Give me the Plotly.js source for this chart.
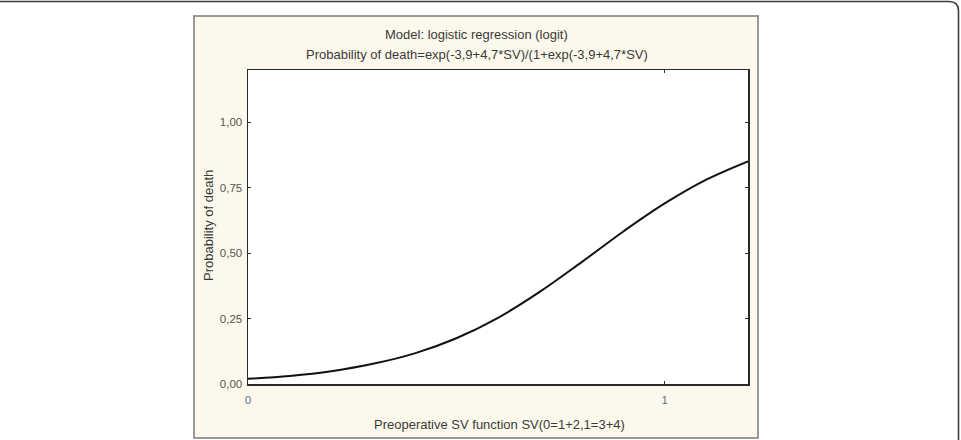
<!DOCTYPE html>
<html>
<head>
<meta charset="utf-8">
<script src="https://cdn.plot.ly/plotly-3.0.1.min.js"></script>
<style>
  html, body { margin: 0; padding: 0; background: #ffffff; }
  #chart { width: 961px; height: 440px; }
</style>
</head>
<body>
<div id="chart"></div>
<script>
// Preoperative SV function (0 = classes 1+2, 1 = classes 3+4)
const svValues = [0, 0.1, 0.2, 0.3, 0.4, 0.5, 0.6, 0.7, 0.8, 0.9, 1.0, 1.1, 1.2];
// Estimated probability of death along the fitted logit curve
const deathProbability = [0.020, 0.031, 0.049, 0.077, 0.117, 0.175, 0.253, 0.352, 0.465, 0.582, 0.690, 0.781, 0.851];

const xTickValues = [0, 1];
const xTickLabels = ['0', '1'];
const yTickValues = [0, 0.25, 0.5, 0.75, 1.0];
const yTickLabels = ['0,00', '0,25', '0,50', '0,75', '1,00'];

const titleLines = [
  'Model: logistic regression (logit)',
  'Probability of death=exp(-3,9+4,7*SV)/(1+exp(-3,9+4,7*SV)'
];
const xTitle = 'Preoperative SV function SV(0=1+2,1=3+4)';
const yTitle = 'Probability of death';

// Plot area geometry in pixels
const W = 961, H = 440;
const L = 248, R = 748, T = 70, B = 384;
const px = (x) => (x - L) / (R - L);
const py = (y) => (B - y) / (B - T);

const font = 'Liberation Sans, Arial, sans-serif';
const textColor = '#3a3a3a';
const labelSize = 13;

const trace = {
  x: svValues,
  y: deathProbability,
  type: 'scatter',
  mode: 'lines',
  line: { color: '#111111', width: 2, shape: 'spline', smoothing: 1 },
  hoverinfo: 'x+y'
};

const axisCommon = {
  showgrid: false,
  zeroline: false,
  showline: true,
  linecolor: '#2a2a2a',
  linewidth: 1.5,
  mirror: 'allticks',
  ticks: 'inside',
  ticklen: 3,
  tickwidth: 1,
  tickcolor: '#2a2a2a',
  fixedrange: true
};

const layout = {
  width: W,
  height: H,
  margin: { l: L, r: W - R, t: T, b: H - B, pad: 0 },
  paper_bgcolor: '#ffffff',
  plot_bgcolor: 'rgba(0,0,0,0)',
  showlegend: false,
  separators: ',.',
  font: { family: font, size: 11, color: textColor },
  xaxis: Object.assign({}, axisCommon, {
    range: [0, 1.2],
    tickmode: 'array',
    tickvals: xTickValues,
    ticktext: xTickLabels,
    ticklabelstandoff: 5,
    tickfont: { family: font, size: 11.5, color: '#5a7488' }
  }),
  yaxis: Object.assign({}, axisCommon, {
    range: [0, 1.2],
    tickmode: 'array',
    tickvals: yTickValues,
    ticktext: yTickLabels,
    ticklabelstandoff: 2,
    tickfont: { family: font, size: 11.5, color: '#555555' }
  }),
  shapes: [
    // cream panel behind the whole chart
    {
      type: 'rect', xref: 'paper', yref: 'paper', layer: 'below',
      x0: px(194), x1: px(758), y0: py(438), y1: py(16),
      fillcolor: '#fcf9ec', line: { color: '#7a7a7a', width: 1.5 }
    },
    // white plotting area
    {
      type: 'rect', xref: 'paper', yref: 'paper', layer: 'below',
      x0: 0, x1: 1, y0: 0, y1: 1,
      fillcolor: '#ffffff', line: { width: 0 }
    },
    // outer frame with rounded top-right corner
    {
      type: 'path', xref: 'paper', yref: 'paper', layer: 'below',
      path: 'M ' + px(-5) + ',' + py(1.5) +
            ' L ' + px(949) + ',' + py(1.5) +
            ' Q ' + px(958.5) + ',' + py(1.5) + ' ' + px(958.5) + ',' + py(11) +
            ' L ' + px(958.5) + ',' + py(445),
      line: { color: '#3c3c3c', width: 1.6 }
    }
  ],
  annotations: [
    {
      text: titleLines[0], xref: 'paper', yref: 'paper',
      x: px(476), y: py(35), xanchor: 'center', yanchor: 'middle',
      showarrow: false, font: { family: font, size: labelSize, color: textColor }
    },
    {
      text: titleLines[1], xref: 'paper', yref: 'paper',
      x: px(477), y: py(55), xanchor: 'center', yanchor: 'middle',
      showarrow: false, font: { family: font, size: labelSize, color: textColor }
    },
    {
      text: xTitle, xref: 'paper', yref: 'paper',
      x: px(499), y: py(424), xanchor: 'center', yanchor: 'middle',
      showarrow: false, font: { family: font, size: labelSize, color: textColor }
    },
    {
      text: yTitle, xref: 'paper', yref: 'paper',
      x: px(208), y: py(226), xanchor: 'center', yanchor: 'middle',
      textangle: -90,
      showarrow: false, font: { family: font, size: labelSize, color: textColor }
    }
  ]
};

Plotly.newPlot('chart', [trace], layout, { displayModeBar: false, staticPlot: true });
</script>
</body>
</html>
